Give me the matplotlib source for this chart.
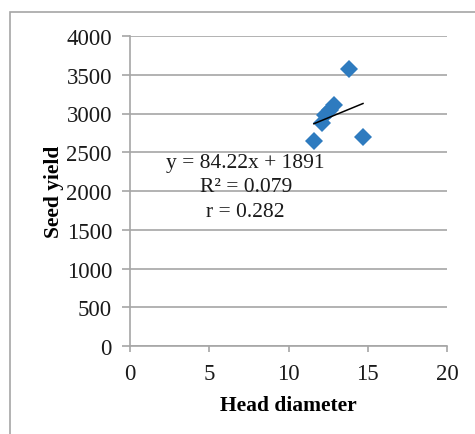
import numpy as np
import matplotlib
matplotlib.use('Agg')
import matplotlib.pyplot as plt
from matplotlib.patches import Rectangle

# head diameter vs seed yield
head_diameter = [11.6, 12.1, 12.3, 12.6, 12.9, 13.8, 14.7]
seed_yield = [2640, 2880, 2980, 3050, 3110, 3580, 2700]

slope = 84.22
intercept = 1891
eq_lines = ['y = 84.22x + 1891', 'R\u00b2 = 0.079', 'r = 0.282']

x_ticks = [0, 5, 10, 15, 20]
y_ticks = [0, 500, 1000, 1500, 2000, 2500, 3000, 3500, 4000]

plt.rcParams['font.family'] = ['Liberation Serif', 'DejaVu Serif']

fig = plt.figure(figsize=(4.75, 4.35), dpi=100)
# outer chart frame
fig.patches.append(Rectangle((10 / 475, -0.05), 1.1, 1 - 13 / 435 + 0.05,
                             transform=fig.transFigure, fill=False,
                             edgecolor='#a6a6a6', lw=1.2))

ax = fig.add_axes([130 / 475, 1 - 347 / 435, 317 / 475, 310 / 435])

ax.plot(head_diameter, seed_yield, 'D', color='#2e7bbf', ms=9.5, zorder=5,
        markeredgewidth=0)
xhat = np.array([min(head_diameter), max(head_diameter)])
ax.plot(xhat, slope * xhat + intercept, '-', color='black', lw=1.1, zorder=6)

ax.set_xlim(0, 20)
ax.set_ylim(0, 4000)
ax.set_xticks(x_ticks)
ax.set_yticks(y_ticks)
ax.yaxis.grid(True, color='#a6a6a6', lw=1.2)
ax.set_axisbelow(True)
for s in ['top', 'right']:
    ax.spines[s].set_visible(False)
for s in ['left', 'bottom']:
    ax.spines[s].set_color('#a6a6a6')
    ax.spines[s].set_linewidth(1.2)
ax.tick_params(axis='both', colors='#a6a6a6', width=1.2,
               labelsize=16.5, labelcolor='#1a1a1a', direction='out')
ax.tick_params(axis='x', length=4.5, pad=8)
ax.tick_params(axis='y', length=6, pad=7)

ax.set_xlabel('Head diameter', fontsize=15.5, fontweight='bold', labelpad=8)
ax.set_ylabel('Seed yield', fontsize=15.5, fontweight='bold', labelpad=2)

for i, t in enumerate(eq_lines):
    ax.text(7.3, 2374 - i * 322, t, ha='center', va='center', fontsize=15.5,
            color='#1a1a1a', zorder=7)

fig.savefig('out.png', dpi=100)
